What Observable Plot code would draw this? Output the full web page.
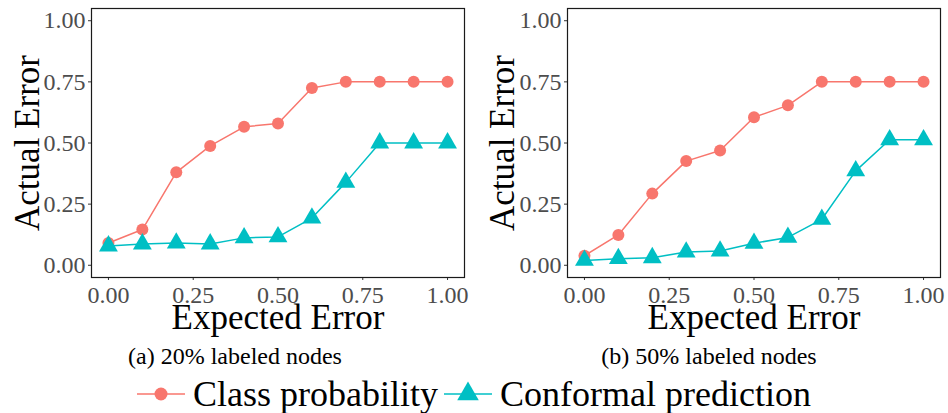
<!DOCTYPE html>
<html>
<head>
<meta charset="utf-8">
<script src="https://cdn.jsdelivr.net/npm/d3@7"></script>
<script src="https://cdn.jsdelivr.net/npm/@observablehq/plot@0.6"></script>
<style>
  html, body { margin: 0; padding: 0; background: #fff; }
  #fig { position: relative; width: 948px; height: 413px; font-family: "Liberation Serif", serif; color: #000; }
  .panel { position: absolute; top: 0; }
  .cap { position: absolute; top: 342px; text-align: center; font-size: 24px; line-height: 28px; }
  #legend { position: absolute; left: 0; top: 374px; width: 948px; display: flex; justify-content: center; align-items: center; font-size: 36px; line-height: 40px; }
  #legend .key { display: flex; align-items: center; }
  #legend svg { display: block; margin-right: 8px; }
</style>
</head>
<body>
<div id="fig">
  <div id="panelA" class="panel" style="left:0"></div>
  <div id="panelB" class="panel" style="left:470px"></div>
  <div class="cap" style="left:0;width:470px">(a) 20% labeled nodes</div>
  <div class="cap" style="left:470px;width:478px">(b) 50% labeled nodes</div>
  <div id="legend"></div>
</div>
<script>
// Expected error levels (x) and observed error for each method
const expected = [0, 0.1, 0.2, 0.3, 0.4, 0.5, 0.6, 0.7, 0.8, 0.9, 1.0];
const classProb20 = [0.091, 0.146, 0.380, 0.488, 0.566, 0.580, 0.725, 0.75, 0.75, 0.75, 0.75];
const conformal20 = [0.079, 0.087, 0.091, 0.087, 0.112, 0.116, 0.193, 0.339, 0.50, 0.50, 0.50];
const classProb50 = [0.039, 0.124, 0.293, 0.426, 0.469, 0.605, 0.654, 0.75, 0.75, 0.75, 0.75];
const conformal50 = [0.020, 0.027, 0.031, 0.054, 0.058, 0.090, 0.114, 0.188, 0.386, 0.513, 0.513];

const seriesNames = ["Class probability", "Conformal prediction"];
const seriesColors = ["#F8766D", "#00BFC4"];
const axisTicks = [0, 0.25, 0.5, 0.75, 1.0];

function panel(cls, conf, {width, marginLeft, marginRight, titleDx}) {
  const rows = expected.flatMap((x, i) => [
    {x, y: cls[i], s: seriesNames[0]},
    {x, y: conf[i], s: seriesNames[1]}
  ]);
  const fmt = d3.format(".2f");
  return Plot.plot({
    width,
    height: 335,
    marginLeft,
    marginRight,
    marginTop: 8,
    marginBottom: 58,
    style: {fontFamily: "Liberation Serif", background: "white", overflow: "visible"},
    x: {domain: [-0.05, 1.05]},
    y: {domain: [-0.05, 1.05]},
    color: {domain: seriesNames, range: seriesColors},
    symbol: {domain: seriesNames, range: ["circle", "triangle"]},
    marks: [
      Plot.axisX({ticks: axisTicks, tickFormat: fmt, tickSize: 3, tickPadding: 5, fontSize: 24, fill: "#4d4d4d", stroke: "#333", label: null}),
      Plot.axisY({ticks: axisTicks, tickFormat: fmt, tickSize: 3, tickPadding: 3, fontSize: 24, fill: "#4d4d4d", stroke: "#333", label: null}),
      Plot.line(rows, {x: "x", y: "y", z: "s", stroke: "s", strokeWidth: 1.5}),
      Plot.dot(rows.filter(d => d.s === seriesNames[0]), {x: "x", y: "y", fill: "s", symbol: "s", r: 6, stroke: null}),
      Plot.dot(rows.filter(d => d.s === seriesNames[1]), {x: "x", y: "y", fill: "s", symbol: "s", r: 7, stroke: null}),
      Plot.frame({stroke: "#1a1a1a", strokeWidth: 1.2}),
      Plot.text(["Actual Error"], {frameAnchor: "left", textAnchor: "middle", lineAnchor: "middle", dx: titleDx, rotate: -90, fontSize: 35, fill: "#000"}),
      Plot.text(["Expected Error"], {frameAnchor: "bottom", textAnchor: "middle", lineAnchor: "middle", dy: 40, fontSize: 35, fill: "#000"})
    ]
  });
}

document.getElementById("panelA").append(
  panel(classProb20, conformal20, {width: 470, marginLeft: 91, marginRight: 6, titleDx: -64})
);
document.getElementById("panelB").append(
  panel(classProb50, conformal50, {width: 478, marginLeft: 97, marginRight: 8, titleDx: -65})
);

// Legend: line-and-symbol keys for the two methods
const legend = d3.select("#legend");
seriesNames.forEach((name, i) => {
  const key = legend.append("div").attr("class", "key").style("margin-right", i === 0 ? "6px" : "0");
  const svg = key.append("svg").attr("width", 48).attr("height", 30);
  svg.append("line").attr("x1", 0).attr("x2", 48).attr("y1", 15).attr("y2", 15)
    .attr("stroke", seriesColors[i]).attr("stroke-width", 1.5);
  if (i === 0) {
    svg.append("circle").attr("cx", 24).attr("cy", 15).attr("r", 6.5).attr("fill", seriesColors[i]);
  } else {
    svg.append("path").attr("transform", "translate(24,15)")
      .attr("d", d3.symbol(d3.symbolTriangle, Math.PI * 64)()).attr("fill", seriesColors[i]);
  }
  key.append("span").text(name);
});
</script>
</body>
</html>
